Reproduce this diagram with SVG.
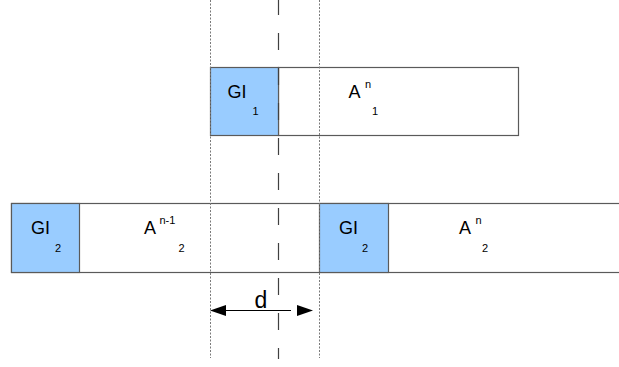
<svg xmlns="http://www.w3.org/2000/svg" width="619" height="367" viewBox="0 0 619 367">
<style>
.bg{fill:#ffffff}
.box{stroke:#5a5a5a;stroke-width:1.2}
.gi{fill:#99ccff}
.slot{fill:#ffffff}
.t{font-family:"Liberation Sans",Arial,sans-serif;fill:#000}
.big{font-size:18px}
.small{font-size:11px}
.dot{stroke:#7a7a7a;stroke-width:1;stroke-dasharray:2 1.5;fill:none}
.dash{stroke:#404040;stroke-width:1.2;stroke-dasharray:17 18;stroke-dashoffset:2;fill:none}
.arrow{stroke:#000;stroke-width:1;fill:none}
.head{fill:#000}
</style>
<rect class="bg" x="0" y="0" width="619" height="367"/>
<g id="row1-frame">
<rect class="box slot" x="278.5" y="67.5" width="240" height="68"/>
</g>
<g id="row2-frame">
<rect class="box slot" x="11.5" y="203.5" width="620" height="69"/>
</g>
<g id="gi1">
<rect class="box gi" x="210.5" y="67.5" width="68" height="68"/>
<text class="t big" x="227.5" y="97.5">GI</text>
<text class="t small" x="252.5" y="114.5">1</text>
</g>
<g id="a1n">
<text class="t big" x="348.5" y="97.5">A</text>
<text class="t small" x="365" y="87.5">n</text>
<text class="t small" x="372" y="114.5">1</text>
</g>
<g id="gi2-left">
<rect class="box gi" x="11.5" y="203.5" width="68" height="69"/>
<text class="t big" x="31" y="233.5">GI</text>
<text class="t small" x="55" y="252">2</text>
</g>
<g id="a2n-1">
<text class="t big" x="144" y="233.5">A</text>
<text class="t small" x="159.5" y="223.5">n-1</text>
<text class="t small" x="178.5" y="252">2</text>
</g>
<g id="gi2-right">
<rect class="box gi" x="319.5" y="203.5" width="69" height="69"/>
<text class="t big" x="339" y="233.5">GI</text>
<text class="t small" x="362" y="252">2</text>
</g>
<g id="a2n">
<text class="t big" x="459" y="233.5">A</text>
<text class="t small" x="475.5" y="223.5">n</text>
<text class="t small" x="482" y="252">2</text>
</g>
<g id="guides">
<line class="dot" x1="210.5" y1="0" x2="210.5" y2="358"/>
<line class="dot" x1="319.5" y1="0" x2="319.5" y2="358"/>
<line class="dash" x1="278.5" y1="0" x2="278.5" y2="359"/>
</g>
<g id="connectors">
<line class="arrow" x1="224" y1="310.5" x2="291" y2="310.5"/>
<polygon class="head" points="210,310.5 226,305 226,316"/>
<polygon class="head" points="313,310.5 297,305 297,316"/>
<text class="t" x="261" y="308" font-size="23" text-anchor="middle">d</text>
</g>
</svg>
